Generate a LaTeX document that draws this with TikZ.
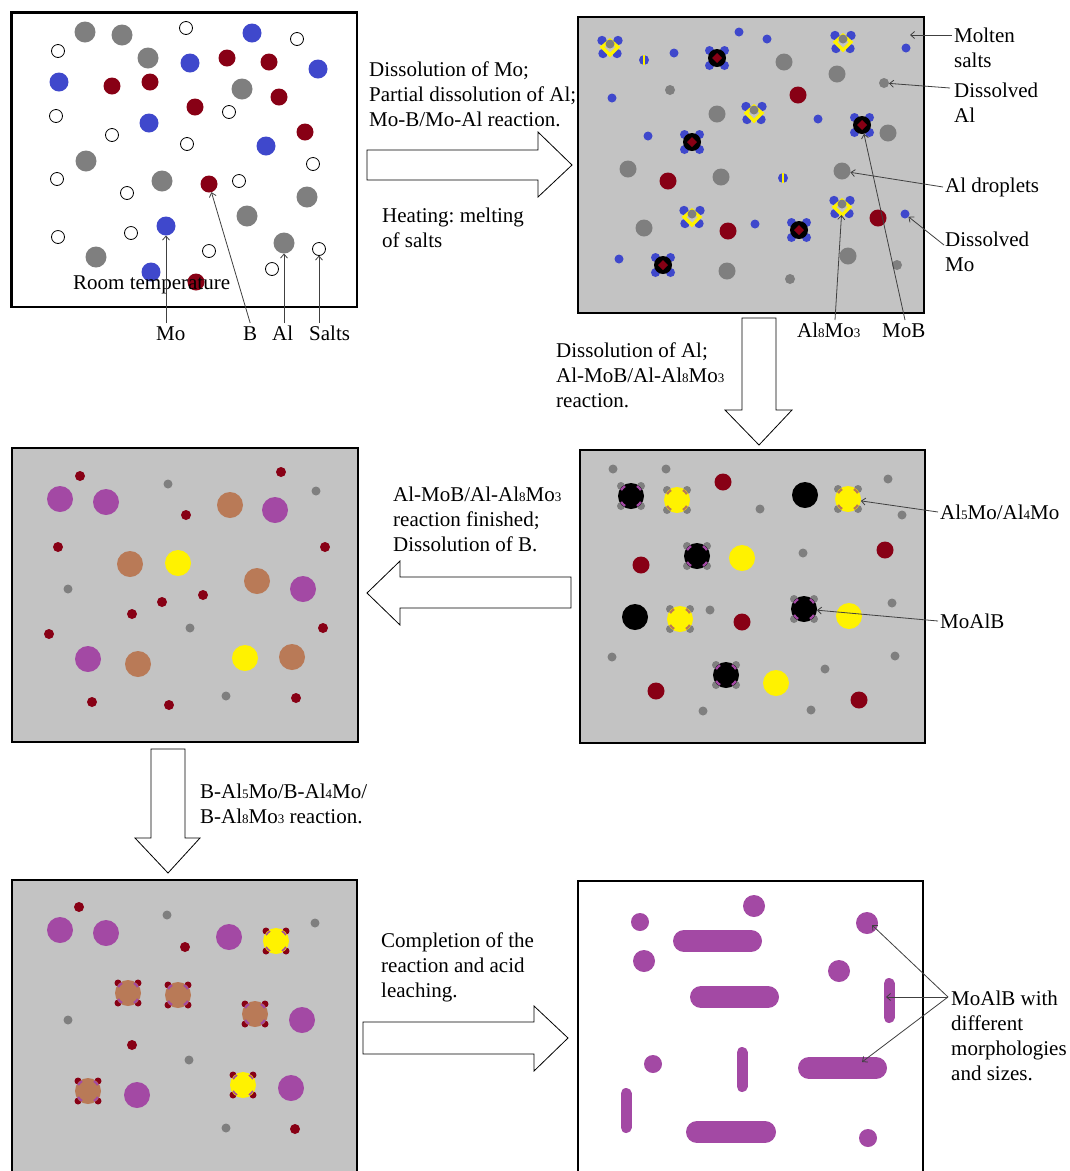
\documentclass[tikz,border=0pt]{standalone}
\usepackage{fontspec}
\setmainfont{Liberation Serif}
\usetikzlibrary{arrows.meta}
\frenchspacing

\definecolor{saltbg}{RGB}{195,195,195}
\definecolor{pgray}{RGB}{127,127,127}
\definecolor{pblue}{RGB}{63,72,204}
\definecolor{pred}{RGB}{136,0,21}
\definecolor{pyellow}{RGB}{255,242,0}
\definecolor{ppurple}{RGB}{163,73,164}
\definecolor{porange}{RGB}{185,122,87}
\definecolor{leadc}{RGB}{64,64,64}

% small digits of the phase formulas, set on the baseline
\newcommand{\sbx}[1]{{\fontsize{13}{13}\selectfont #1}}
\newcommand{\tstrut}{\rule{0pt}{17pt}}

% core particle with four corner particles and four marks on its rim
% #1,#2 centre; #3 corner colour; #4 corner radius; #5 core colour; #6 mark colour; #7 mark width
\newcommand{\ringpart}[7]{%
  \begin{scope}[shift={(#1,#2)}]
    \foreach \sx/\sy in {-10/-10,10/-10,-10/10,10/10} \fill[#3] (\sx,\sy) circle (#4);
    \fill[#5] (0,0) circle (13);
    \foreach \a in {45,135,225,315}
      \draw[#6, line width=#7] (\a-14:11.5) arc[start angle=\a-14, end angle=\a+14, radius=11.5];
  \end{scope}}

\begin{document}
\begin{tikzpicture}[x=1pt,y=-1pt,
  panel/.style={draw=black, line width=2.5pt},
  blockarrow/.style={draw=black, fill=white, line width=0.8pt, line join=miter},
  txt/.style={font=\fontsize{21}{25}\selectfont, inner sep=0pt, anchor=north west, align=left, text=black},
  ptr/.style={draw=leadc, line width=0.8pt, -{Straight Barb[length=4pt,width=7pt]}},
  target/.style={circle, inner sep=0pt, outer sep=0pt},
  al8mo3/.pic={
    \foreach \sx/\sy in {-8/-6.5,8/-6.5,-7/6.5,7/6.5} \fill[pblue] (\sx,\sy) circle (4.7);
    \draw[pyellow, line width=3.2pt, line join=miter] (0,-7) -- (8,0) -- (0,8) -- (-8,0) -- cycle;
    \fill[pgray] (0,-3) circle (4.5);
  },
  mob/.pic={
    \foreach \sx/\sy in {-7.5/-7.5,7.5/-7.5,-7.5/7.5,7.5/7.5} \fill[pblue] (\sx,\sy) circle (4.5);
    \fill[black] (0,0) circle (9);
    \fill[pred] (0,-5) -- (5,0) -- (0,5) -- (-5,0) -- cycle;
  },
  mixpart/.pic={
    \fill[pblue] (0,0) circle (5);
    \fill[pyellow] (-1.2,-4.8) rectangle (1.2,4.8);
  }
]
\useasboundingbox (0,0) rectangle (1070,1171);
\fill[white] (0,0) rectangle (1070,1171);

% ---------------- panels ----------------
\fill[white] (11.5,12.5) rectangle (357,307);
\fill[saltbg] (578,17) rectangle (924,313);
\fill[saltbg] (12,448) rectangle (358,742);
\fill[saltbg] (580,450) rectangle (925,743);
\fill[saltbg] (12,880) rectangle (357,1185);
\fill[white] (578,881) rectangle (923,1185);

% ---------------- room temperature mixture ----------------
\foreach \x/\y in {85/32,122/35,148/58,242/89,86/161,162/181,307/197,247/216,96/257}
  \fill[pgray] (\x,\y) circle (10.5);
\foreach \x/\y in {252/33,190/63,59/82,318/69,149/123,266/146,151/272}
  \fill[pblue] (\x,\y) circle (9.5);
\foreach \x/\y in {227/58,269/62,112/86,150/82,195/107,279/97,305/132,196/282}
  \fill[pred] (\x,\y) circle (8.5);
\foreach \x/\y in {186/28,297/39,58/51,56/116,112/135,229/112,187/144,313/164,57/179,127/193,239/181,58/237,131/233,209/251,272/269}
  \draw[black, line width=0.8pt, fill=white] (\x,\y) circle (6.5);
\node[target, fill=pblue, minimum size=19] (moP) at (166,226) {};
\node[target, fill=pred, minimum size=17] (bP) at (209,184) {};
\node[target, fill=pgray, minimum size=21] (alP) at (284,243) {};
\node[target, draw=black, line width=0.8pt, fill=white, minimum size=13] (saltP) at (319,249) {};

% ---------------- molten salt, first reactions ----------------
\foreach \x/\y in {784/62,837/74,717/114,888/133,628/169,721/177,644/228,848/256,727/271}
  \fill[pgray] (\x,\y) circle (8.5);
\foreach \x/\y in {670/90,790/279,897/265}
  \fill[pgray] (\x,\y) circle (5);
\foreach \x/\y in {739/32,767/39,674/53,612/98,818/119,648/136,906/48,755/224,619/259}
  \fill[pblue] (\x,\y) circle (4.5);
\foreach \x/\y in {798/95,668/181,728/231,878/218}
  \fill[pred] (\x,\y) circle (8.5);
\node[target, fill=pgray, minimum size=17] (dropP) at (842,171) {};
\node[target, fill=pgray, minimum size=10] (dAlP) at (884,83) {};
\node[target, fill=pblue, minimum size=9] (dMoP) at (905,214) {};
\foreach \x/\y in {644/60,783/178} \pic at (\x,\y) {mixpart};
\foreach \x/\y in {610/47,843/42,754/113,692/217,842/207} \pic at (\x,\y) {al8mo3};
\foreach \x/\y in {717/58,692/142,862/125,799/230,663/265} \pic at (\x,\y) {mob};
\node[target, minimum size=16] (a83P) at (842,207) {};
\node[target, minimum size=18] (mobP) at (862,125) {};

% ---------------- Al5Mo / Al4Mo and MoAlB formation ----------------
\foreach \x/\y in {613/469,666/469,760/509,888/479,902/515,803/553,710/610,892/603,612/657,895/656,825/669,703/711,811/710}
  \fill[pgray] (\x,\y) circle (4.5);
\foreach \x/\y in {805/495,635/617}
  \fill[black] (\x,\y) circle (13);
\foreach \x/\y in {742/558,849/616,776/683}
  \fill[pyellow] (\x,\y) circle (13);
\foreach \x/\y in {723/482,641/565,885/550,742/622,656/691,859/700}
  \fill[pred] (\x,\y) circle (8.5);
\foreach \x/\y in {631/496,697/556,804/609,726/675}
  \ringpart{\x}{\y}{pgray}{4}{black}{ppurple}{2.2pt};
\foreach \x/\y in {677/500,848/499,680/619}
  \ringpart{\x}{\y}{pgray}{4}{pyellow}{porange}{2.2pt};
\node[target, minimum size=26] (a5P) at (848,499) {};
\node[target, minimum size=26] (malP) at (804,609) {};

% ---------------- dissolution of B ----------------
\foreach \x/\y in {60/499,106/502,275/510,303/589,88/659}
  \fill[ppurple] (\x,\y) circle (13);
\foreach \x/\y in {230/505,130/564,257/581,138/664,292/657}
  \fill[porange] (\x,\y) circle (13);
\foreach \x/\y in {178/563,245/658}
  \fill[pyellow] (\x,\y) circle (13);
\foreach \x/\y in {80/476,281/472,186/515,58/547,325/547,203/595,162/602,132/614,49/634,323/628,92/702,169/705,296/698}
  \fill[pred] (\x,\y) circle (5);
\foreach \x/\y in {168/484,316/491,68/589,190/628,226/696}
  \fill[pgray] (\x,\y) circle (4.5);

% ---------------- B reacting with the aluminides ----------------
\foreach \x/\y in {60/930,106/933,229/937,302/1020,137/1095,291/1088}
  \fill[ppurple] (\x,\y) circle (13);
\foreach \x/\y in {79/907,185/947,132/1045,295/1129}
  \fill[pred] (\x,\y) circle (5);
\foreach \x/\y in {167/915,315/923,68/1020,189/1060,226/1128}
  \fill[pgray] (\x,\y) circle (4.5);
\foreach \x/\y in {128/993,178/995,255/1014,88/1091}
  \ringpart{\x}{\y}{pred}{3.5}{porange}{ppurple}{2pt};
\foreach \x/\y in {276/941,243/1085}
  \ringpart{\x}{\y}{pred}{3.5}{pyellow}{ppurple}{1.5pt};

% ---------------- leached MoAlB ----------------
\foreach \x/\y/\r in {640/922/9,754/906/11,644/961/11,867/923/11,839/971/11,653/1064/9,868/1138/9}
  \fill[ppurple] (\x,\y) circle (\r);
\begin{scope}[ppurple, line cap=round]
  \draw[line width=22pt] (684,941) -- (751,941);
  \draw[line width=22pt] (701,997) -- (768,997);
  \draw[line width=22pt] (809,1068) -- (876,1068);
  \draw[line width=22pt] (697,1132) -- (765,1132);
  \draw[line width=11pt] (889,983.5) -- (889,1017.5);
  \draw[line width=11pt] (742,1052.5) -- (742,1086.5);
  \draw[line width=11pt] (626,1093.5) -- (626,1127.5);
\end{scope}

% ---------------- panel frames ----------------
\draw[panel] (11.5,12.5) rectangle (357,307);
\draw[panel] (578,17) rectangle (924,313);
\draw[panel] (12,448) rectangle (358,742);
\draw[panel] (580,450) rectangle (925,743);
\draw[panel] (12,880) rectangle (357,1185);
\draw[panel] (578,881) rectangle (923,1185);

% ---------------- process arrows ----------------
\draw[blockarrow] (367,150) -- (538,150) -- (538,132) -- (572,165) -- (538,197) -- (538,180) -- (367,180) -- cycle;
\draw[blockarrow] (742,318) -- (776,318) -- (776,410) -- (792,410) -- (759,445) -- (725,410) -- (742,410) -- cycle;
\draw[blockarrow] (571,577) -- (400,577) -- (400,561) -- (367,593) -- (400,625) -- (400,608) -- (571,608) -- cycle;
\draw[blockarrow] (151,749) -- (185,749) -- (185,838) -- (200,838) -- (168,873) -- (135,838) -- (151,838) -- cycle;
\draw[blockarrow] (363,1022) -- (534,1022) -- (534,1006) -- (568,1038) -- (534,1071) -- (534,1054) -- (363,1054) -- cycle;

% ---------------- texts ----------------
\node[txt] (t1) at (369,59) {\tstrut Dissolution of Mo;\\Partial dissolution of Al;\\Mo-B/Mo-Al reaction.};
\node[txt] (t2) at (382,205) {\tstrut Heating: melting\\of salts};
\node[txt] (room) at (73,272) {\tstrut Room temperature};
\node[txt] (moL) at (156,323) {\tstrut Mo};
\node[txt] (bL) at (243,323) {\tstrut B};
\node[txt] (alL) at (272,323) {\tstrut Al};
\node[txt] (saltL) at (309,323) {\tstrut Salts};
\node[txt] (moltenL) at (954,25) {\tstrut Molten\\salts};
\node[txt] (dAlL) at (954,80) {\tstrut Dissolved\\Al};
\node[txt] (dropL) at (945,175) {\tstrut Al droplets};
\node[txt] (dMoL) at (945,229) {\tstrut Dissolved\\Mo};
\node[txt] (a83L) at (797,320) {\tstrut Al\sbx{8}Mo\sbx{3}};
\node[txt] (mobL) at (882,320) {\tstrut MoB};
\node[txt] (t3) at (556,340) {\tstrut Dissolution of Al;\\Al-MoB/Al-Al\sbx{8}Mo\sbx{3}\\reaction.};
\node[txt] (a5L) at (940,502) {\tstrut Al\sbx{5}Mo/Al\sbx{4}Mo};
\node[txt] (malL) at (940,611) {\tstrut MoAlB};
\node[txt] (t4) at (393,484) {\tstrut Al-MoB/Al-Al\sbx{8}Mo\sbx{3}\\reaction finished;\\Dissolution of B.};
\node[txt] (t5) at (200,781) {\tstrut B-Al\sbx{5}Mo/B-Al\sbx{4}Mo/\\B-Al\sbx{8}Mo\sbx{3} reaction.};
\node[txt] (t6) at (381,930) {\tstrut Completion of the\\reaction and acid\\leaching.};
\node[txt] (finL) at (951,988) {\tstrut MoAlB with\\different\\morphologies\\and sizes.};

% ---------------- leader lines ----------------
\draw[ptr] (moL.north -| moP) -- (moP);
\draw[ptr] (bL.north) -- (bP);
\draw[ptr] (alL.north -| alP) -- (alP);
\draw[ptr] (saltL.north -| saltP) -- (saltP);

\coordinate (moltenFrom) at (952,35);
\coordinate (moltenTo) at (910,35);
\coordinate (dAlFrom) at (950,88);
\coordinate (dropFrom) at (943,187);
\coordinate (dMoFrom) at (944,245);
\coordinate (a83From) at (835,320);
\coordinate (mobFrom) at (905,320);
\draw[ptr] (moltenFrom) -- (moltenTo);
\draw[ptr] (dAlFrom) -- (dAlP);
\draw[ptr] (dropFrom) -- (dropP);
\draw[ptr] (dMoFrom) -- (dMoP);
\draw[ptr] (a83From) -- (a83P);
\draw[ptr] (mobFrom) -- (mobP);

\coordinate (a5From) at (938,512);
\coordinate (malFrom) at (938,621);
\draw[ptr] (a5From) -- (a5P);
\draw[ptr] (malFrom) -- (malP);

\coordinate (finFrom) at (948,997);
\coordinate (finRound) at (872,925);
\coordinate (finNeedle) at (886,997);
\coordinate (finPlate) at (862,1062);
\draw[ptr] (finFrom) -- (finRound);
\draw[ptr] (finFrom) -- (finNeedle);
\draw[ptr] (finFrom) -- (finPlate);
\end{tikzpicture}
\end{document}
